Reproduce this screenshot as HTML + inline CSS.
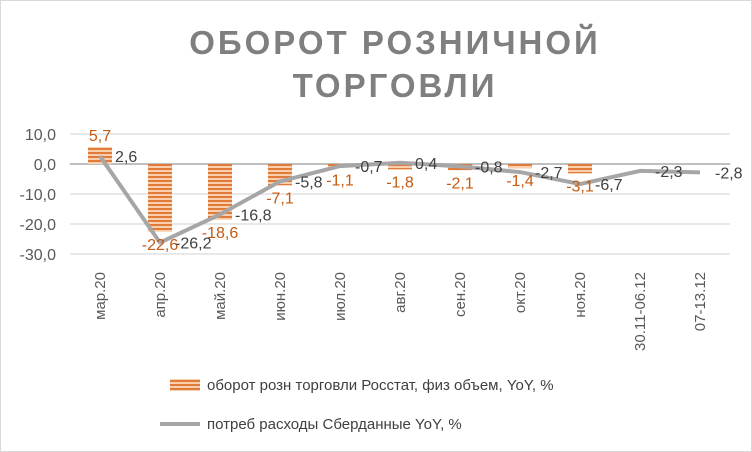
<!DOCTYPE html>
<html><head><meta charset="utf-8"><style>
body{margin:0;background:#fff}
svg{display:block;font-family:"Liberation Sans",sans-serif}
</style></head><body>
<svg width="752" height="452">
<defs><pattern id="stripe" width="4" height="4" patternUnits="userSpaceOnUse"><rect width="4" height="4" fill="#f9cfae"/><rect width="4" height="2" fill="#e07b39"/></pattern></defs>
<rect x="0.5" y="0.5" width="751" height="451" fill="#fff" stroke="#d9d9d9"/>
<text x="395" y="54" text-anchor="middle" font-size="33" font-weight="bold" fill="#7f7f7f" letter-spacing="3">ОБОРОТ РОЗНИЧНОЙ</text>
<text x="395" y="97" text-anchor="middle" font-size="33" font-weight="bold" fill="#7f7f7f" letter-spacing="3">ТОРГОВЛИ</text>
<g id="grid"></g><g id="bars"></g><g id="line"></g><g id="labels"></g>
<g>
<rect x="170" y="379" width="30" height="12" fill="url(#stripe)"/>
<text x="207" y="390" font-size="15" fill="#404040">оборот розн торговли Росстат, физ объем, YoY, %</text>
<line x1="160" y1="424" x2="200" y2="424" stroke="#a6a6a6" stroke-width="4"/>
<text x="207" y="429" font-size="15" fill="#404040">потреб расходы Сберданные YoY, %</text>
</g>
</svg>
<script>
const categories=["мар.20","апр.20","май.20","июн.20","июл.20","авг.20","сен.20","окт.20","ноя.20","30.11-06.12","07-13.12"];
const barValues=[5.7,-22.6,-18.6,-7.1,-1.1,-1.8,-2.1,-1.4,-3.1,null,null];
const lineValues=[2.6,-26.2,-16.8,-5.8,-0.7,0.4,-0.8,-2.7,-6.7,-2.3,-2.8];
const yTicks=[10,0,-10,-20,-30];
const NS="http://www.w3.org/2000/svg";
const X0=70,X1=730,y=v=>164-v*3,xc=i=>X0+(X1-X0)/categories.length*(i+0.5);
const fmt=v=>v.toFixed(1).replace('.',',');
function mk(t,a,p){const e=document.createElementNS(NS,t);for(const k in a)e.setAttribute(k,a[k]);document.getElementById(p).appendChild(e);return e;}
yTicks.forEach(v=>{
 const l=mk('line',{x1:X0,x2:X1,y1:y(v),y2:y(v),stroke:v===0?'#bfbfbf':'#d9d9d9','stroke-width':v===0?2:1.3},'grid');
 
 
 const t=mk('text',{x:56,y:y(v)+6,'text-anchor':'end','font-size':16,fill:'#595959'},'grid');t.textContent=fmt(v);
 
 
});
categories.forEach((c,i)=>{
 const t=mk('text',{transform:`translate(${xc(i)+5},272) rotate(-90)`,'text-anchor':'end','font-size':15,fill:'#595959'},'grid');t.textContent=c;
 
 
});
barValues.forEach((v,i)=>{
 if(v===null)return;
 const r=mk('rect',{x:xc(i)-12,width:24,y:Math.min(y(v),y(0)),height:Math.abs(y(v)-y(0)),fill:'url(#stripe)'},'bars');
 
 
 const t=mk('text',{x:xc(i),y:v>0?y(v)-6:y(v)+18,'text-anchor':'middle','font-size':16,fill:'#c55a11'},'labels');t.textContent=fmt(v);
 
 
});
const p=mk('polyline',{points:lineValues.map((v,i)=>xc(i)+','+y(v)).join(' '),fill:'none',stroke:'#a6a6a6','stroke-width':4,'stroke-linejoin':'round'},'line');


lineValues.forEach((v,i)=>{
 const t=mk('text',{x:xc(i)+15,y:y(v)+6,'font-size':16,fill:'#404040'},'labels');t.textContent=fmt(v);
 
 
});
</script>
</body></html>
